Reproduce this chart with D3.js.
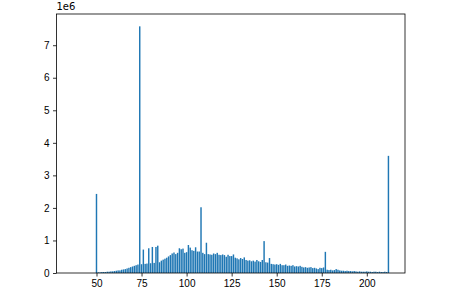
<!DOCTYPE html>
<html>
<head>
<meta charset="utf-8">
<script src="https://cdn.jsdelivr.net/npm/d3@7"></script>
<style>
  body { margin: 0; background: #fff; }
  svg { display: block; font-family: "DejaVu Sans", sans-serif; }
  .tick text { font-size: 10px; fill: #000; }
  .tick line { stroke: #000; stroke-width: 0.8; }
  .domain { display: none; }
</style>
</head>
<body>
<script>
// x positions of the bars (one per integer), first one at 37
var xValues = d3.range(37, 213);

// bar heights, in millions
var counts = [
    0, 0, 0, 0, 0, 0, 0, 0, 0, 0, 0, 0, 0,
    2.43, 0.02, 0.02, 0.03, 0.03, 0.03, 0.04, 0.04, 0.05, 0.05,
    0.06, 0.07, 0.08, 0.08, 0.10, 0.11, 0.12, 0.14, 0.16, 0.18,
    0.20, 0.22, 0.24, 0.26, 7.58, 0.27, 0.72, 0.28, 0.29, 0.76,
    0.30, 0.80, 0.31, 0.80, 0.84, 0.33, 0.38, 0.41, 0.44, 0.47,
    0.51, 0.55, 0.60, 0.63, 0.58, 0.62, 0.76, 0.73, 0.75, 0.62,
    0.64, 0.86, 0.78, 0.70, 0.68, 0.79, 0.66, 0.66, 2.02, 0.62,
    0.58, 0.93, 0.58, 0.57, 0.56, 0.60, 0.58, 0.62, 0.56, 0.55,
    0.57, 0.55, 0.50, 0.56, 0.52, 0.52, 0.57, 0.47, 0.45, 0.42,
    0.46, 0.43, 0.48, 0.40, 0.38, 0.39, 0.36, 0.38, 0.35, 0.40,
    0.36, 0.34, 0.40, 0.98, 0.33, 0.32, 0.46, 0.28, 0.27, 0.26,
    0.27, 0.25, 0.28, 0.24, 0.24, 0.26, 0.22, 0.23, 0.22, 0.24,
    0.20, 0.21, 0.20, 0.22, 0.19, 0.17, 0.18, 0.16, 0.17, 0.18,
    0.15, 0.16, 0.14, 0.12, 0.16, 0.15, 0.17, 0.65, 0.10, 0.09,
    0.10, 0.08, 0.09, 0.12, 0.10, 0.08, 0.07, 0.07, 0.06, 0.07,
    0.06, 0.06, 0.05, 0.06, 0.05, 0.04, 0.05, 0.04, 0.04, 0.04,
    0.05, 0.04, 0.04, 0.03, 0.04, 0.04, 0.03, 0.04, 0.03, 0.03,
    0.04, 0.03, 3.60
];

var xTicks = [50, 75, 100, 125, 150, 175, 200];
var yTicks = [0, 1, 2, 3, 4, 5, 6, 7];
var offsetLabel = "1e6";

var data = xValues.map(function (x, i) { return { x: x, y: counts[i] * 1e6 }; });

var W = 450, H = 292;
var margin = { top: 14, right: 45, bottom: 19, left: 56.5 },
    width = W - margin.left - margin.right,
    height = H - margin.top - margin.bottom;
var barWidth = 0.8;

// matplotlib style 5% padding on x, 5% headroom on y
var xMin = d3.min(data, function (d) { return d.x; }) - barWidth / 2,
    xMax = d3.max(data, function (d) { return d.x; }) + barWidth / 2,
    xPad = (xMax - xMin) * 0.05;
var yMax = d3.max(data, function (d) { return d.y; }) * 1.05;

var x = d3.scaleLinear().domain([xMin - xPad, xMax + xPad]).range([0, width]);
var y = d3.scaleLinear().domain([0, yMax]).range([height, 0]);

var svg = d3.select("body").append("svg")
    .attr("width", W)
    .attr("height", H)
    .append("g")
    .attr("transform", "translate(" + margin.left + "," + margin.top + ")");

// bars
svg.selectAll(".bar")
    .data(data)
    .enter().append("rect")
    .attr("class", "bar")
    .attr("x", function (d) { return x(d.x - barWidth / 2); })
    .attr("width", function (d) { return x(d.x + barWidth / 2) - x(d.x - barWidth / 2); })
    .attr("y", function (d) { return y(d.y); })
    .attr("height", function (d) { return height - y(d.y); })
    .attr("fill", "#1f77b4");

// axes
svg.append("g")
    .attr("class", "x-axis")
    .attr("transform", "translate(0," + height + ")")
    .call(d3.axisBottom(x).tickValues(xTicks).tickSize(3.5).tickPadding(3.5).tickFormat(d3.format("d")));

svg.append("g")
    .attr("class", "y-axis")
    .call(d3.axisLeft(y).tickValues(yTicks.map(function (t) { return t * 1e6; }))
        .tickSize(3.5).tickPadding(3.5)
        .tickFormat(function (d) { return d3.format("d")(d / 1e6); }));

// frame
svg.append("rect")
    .attr("width", width)
    .attr("height", height)
    .attr("fill", "none")
    .attr("stroke", "#000")
    .attr("stroke-width", 0.8);

// offset text
svg.append("text")
    .attr("x", 0)
    .attr("y", -4)
    .attr("font-size", 10)
    .text(offsetLabel);
</script>
</body>
</html>
